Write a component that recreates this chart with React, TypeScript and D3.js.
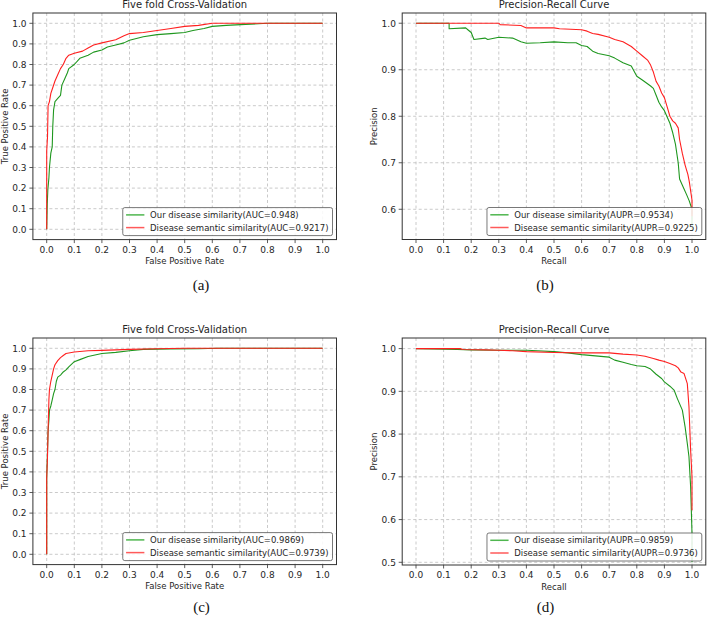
import React from 'react';
import * as d3 from 'd3';

// ---------- tick values ----------
const xTickValues = [0.0, 0.1, 0.2, 0.3, 0.4, 0.5, 0.6, 0.7, 0.8, 0.9, 1.0];
const rocYTicks = [0.0, 0.1, 0.2, 0.3, 0.4, 0.5, 0.6, 0.7, 0.8, 0.9, 1.0];
const prYTicksB = [0.6, 0.7, 0.8, 0.9, 1.0];
const prYTicksD = [0.5, 0.6, 0.7, 0.8, 0.9, 1.0];

// ---------- panel (a): ROC ----------
const rocA_our: [number, number][] = [
  [0, 0], [0.002, 0.12], [0.004, 0.19], [0.008, 0.25], [0.01, 0.3], [0.015, 0.37], [0.02, 0.4],
  [0.022, 0.5], [0.025, 0.58], [0.03, 0.62], [0.04, 0.635], [0.05, 0.65], [0.055, 0.7],
  [0.065, 0.73], [0.075, 0.76], [0.08, 0.78], [0.1, 0.8], [0.12, 0.83], [0.15, 0.845],
  [0.17, 0.86], [0.2, 0.87], [0.22, 0.885], [0.25, 0.895], [0.28, 0.905], [0.3, 0.918],
  [0.35, 0.935], [0.4, 0.945], [0.45, 0.95], [0.5, 0.955], [0.53, 0.965], [0.57, 0.975],
  [0.6, 0.985], [0.65, 0.99], [0.72, 0.995], [0.8, 1.0], [1.0, 1.0],
];
const rocA_sem: [number, number][] = [
  [0, 0], [0, 0.38], [0.003, 0.45], [0.005, 0.6], [0.01, 0.62], [0.015, 0.66], [0.02, 0.68],
  [0.03, 0.72], [0.04, 0.75], [0.05, 0.78], [0.06, 0.8], [0.07, 0.83], [0.08, 0.845],
  [0.1, 0.855], [0.13, 0.865], [0.15, 0.88], [0.17, 0.895], [0.2, 0.905], [0.25, 0.92],
  [0.28, 0.94], [0.3, 0.95], [0.35, 0.955], [0.4, 0.965], [0.45, 0.975], [0.5, 0.985],
  [0.55, 0.99], [0.6, 1.0], [1.0, 1.0],
];

// ---------- panel (b): PR ----------
const prB_our: [number, number][] = [
  [0, 1.0], [0.12, 1.0], [0.12, 0.988], [0.18, 0.99], [0.19, 0.985], [0.2, 0.98], [0.21, 0.965],
  [0.25, 0.968], [0.26, 0.965], [0.3, 0.97], [0.35, 0.968], [0.38, 0.96], [0.4, 0.957],
  [0.45, 0.958], [0.5, 0.96], [0.55, 0.958], [0.58, 0.958], [0.6, 0.952], [0.62, 0.95],
  [0.64, 0.94], [0.66, 0.935], [0.7, 0.93], [0.72, 0.925], [0.75, 0.915], [0.78, 0.908],
  [0.8, 0.886], [0.82, 0.878], [0.85, 0.865], [0.86, 0.86], [0.87, 0.845], [0.88, 0.83],
  [0.89, 0.82], [0.9, 0.812], [0.92, 0.785], [0.93, 0.765], [0.94, 0.74], [0.95, 0.7],
  [0.955, 0.665], [0.97, 0.645], [0.98, 0.632], [0.99, 0.618], [1.0, 0.6], [1.0, 0.557],
];
const prB_sem: [number, number][] = [
  [0, 1.0], [0.3, 1.0], [0.305, 0.997], [0.38, 0.995], [0.4, 0.99], [0.5, 0.99], [0.52, 0.988],
  [0.6, 0.986], [0.62, 0.983], [0.64, 0.978], [0.66, 0.976], [0.7, 0.97], [0.72, 0.965],
  [0.75, 0.96], [0.78, 0.95], [0.8, 0.94], [0.82, 0.93], [0.84, 0.92], [0.85, 0.91],
  [0.86, 0.895], [0.87, 0.875], [0.88, 0.865], [0.89, 0.85], [0.9, 0.84], [0.91, 0.82],
  [0.92, 0.8], [0.93, 0.79], [0.94, 0.785], [0.95, 0.775], [0.955, 0.75], [0.965, 0.72],
  [0.975, 0.695], [0.985, 0.675], [0.99, 0.66], [1.0, 0.62], [1.0, 0.585],
];

// ---------- panel (c): ROC ----------
const rocC_our: [number, number][] = [
  [0, 0], [0, 0.37], [0.003, 0.5], [0.005, 0.6], [0.008, 0.65], [0.01, 0.7], [0.015, 0.72],
  [0.02, 0.75], [0.025, 0.78], [0.03, 0.8], [0.035, 0.84], [0.04, 0.86], [0.05, 0.87],
  [0.06, 0.885], [0.07, 0.895], [0.08, 0.91], [0.1, 0.935], [0.12, 0.945], [0.15, 0.96],
  [0.2, 0.975], [0.25, 0.98], [0.3, 0.988], [0.35, 0.995], [0.45, 0.997], [0.55, 0.998],
  [0.62, 1.0], [1.0, 1.0],
];
const rocC_sem: [number, number][] = [
  [0, 0], [0, 0.37], [0.003, 0.48], [0.005, 0.6], [0.008, 0.75], [0.01, 0.8], [0.015, 0.84],
  [0.02, 0.87], [0.025, 0.9], [0.03, 0.92], [0.04, 0.94], [0.05, 0.955], [0.06, 0.965],
  [0.07, 0.975], [0.1, 0.982], [0.15, 0.988], [0.2, 0.99], [0.3, 0.995], [0.4, 0.998],
  [0.5, 1.0], [1.0, 1.0],
];

// ---------- panel (d): PR ----------
const prD_our: [number, number][] = [
  [0, 1.0], [0.15, 0.998], [0.2, 0.997], [0.3, 0.996], [0.4, 0.996], [0.44, 0.995],
  [0.5, 0.993], [0.55, 0.99], [0.6, 0.986], [0.65, 0.983], [0.7, 0.98], [0.72, 0.973],
  [0.75, 0.968], [0.78, 0.963], [0.8, 0.96], [0.83, 0.958], [0.85, 0.952], [0.87, 0.94],
  [0.89, 0.93], [0.9, 0.922], [0.92, 0.912], [0.935, 0.903], [0.947, 0.883], [0.965, 0.856],
  [0.975, 0.817], [0.983, 0.778], [0.989, 0.747], [0.995, 0.677], [1.0, 0.568], [1.0, 0.5],
];
const prD_sem: [number, number][] = [
  [0, 1.0], [0.16, 1.0], [0.17, 0.998], [0.25, 0.997], [0.3, 0.996], [0.35, 0.995],
  [0.4, 0.993], [0.5, 0.991], [0.6, 0.99], [0.7, 0.99], [0.75, 0.987], [0.8, 0.985],
  [0.83, 0.982], [0.86, 0.977], [0.88, 0.973], [0.9, 0.97], [0.92, 0.965], [0.94, 0.96],
  [0.95, 0.955], [0.96, 0.945], [0.971, 0.942], [0.983, 0.918], [0.989, 0.864],
  [0.995, 0.762], [1.0, 0.7], [1.0, 0.622],
];

// ---------- labels ----------
const rocTitle = 'Five fold Cross-Validation';
const prTitle = 'Precision-Recall Curve';
const legendA = ['Our disease similarity(AUC=0.948)', 'Disease semantic similarity(AUC=0.9217)'];
const legendB = ['Our disease similarity(AUPR=0.9534)', 'Disease semantic similarity(AUPR=0.9225)'];
const legendC = ['Our disease similarity(AUC=0.9869)', 'Disease semantic similarity(AUC=0.9739)'];
const legendD = ['Our disease similarity(AUPR=0.9859)', 'Disease semantic similarity(AUPR=0.9736)'];

const GREEN = '#1f971f';
const RED = '#ff2020';
const GREEN_LEG = '#4fb64f';
const RED_LEG = '#ff5a5a';
const SANS = 'DejaVu Sans';

let canvasCtx: CanvasRenderingContext2D | null = null;
function measure(text: string, size: number) {
  if (!canvasCtx) canvasCtx = document.createElement('canvas').getContext('2d');
  if (!canvasCtx) return text.length * size * 0.55;
  canvasCtx.font = `${size}px "${SANS}"`;
  return canvasCtx.measureText(text).width;
}

type PanelProps = {
  id: string;
  box: { left: number; top: number; right: number; bottom: number };
  yDomain: [number, number];
  yTicks: number[];
  title: string;
  xLabel: string;
  yLabel: string;
  data: [number, number][][];
  legend: string[];
  caption: string;
  captionX: number;
  captionY: number;
};

function Panel(p: PanelProps) {
  const { left, top, right, bottom } = p.box;
  const x = d3.scaleLinear().domain([-0.05, 1.05]).range([left, right]);
  const y = d3.scaleLinear().domain(p.yDomain).range([bottom, top]);
  const line = d3.line<[number, number]>().x(d => x(d[0])).y(d => y(d[1]));
  const colors = [GREEN, RED];
  const legColors = [GREEN_LEG, RED_LEG];
  const legFont = 8.5;
  const tw = Math.max(...p.legend.map(t => measure(t, legFont)));
  const legW = 3.3 + 18.3 + 5.7 + tw + 4;
  const legH = 28;
  const legRight = right - 4;
  const legBottom = bottom - 4;
  const legLeft = legRight - legW;
  const legTop = legBottom - legH;
  const fmt = d3.format('.1f');
  return (
    <g>
      <defs>
        <clipPath id={`clip-${p.id}`}>
          <rect x={left} y={top} width={right - left} height={bottom - top} />
        </clipPath>
      </defs>
      {/* grid */}
      {xTickValues.map(t => (
        <line key={`gx${t}`} x1={x(t)} x2={x(t)} y1={top} y2={bottom}
          stroke="#bdbdbd" strokeWidth={0.8} strokeDasharray="3,2.5" />
      ))}
      {p.yTicks.map(t => (
        <line key={`gy${t}`} x1={left} x2={right} y1={y(t)} y2={y(t)}
          stroke="#bdbdbd" strokeWidth={0.8} strokeDasharray="3,2.5" />
      ))}
      {/* curves */}
      <g clipPath={`url(#clip-${p.id})`}>
        {p.data.map((d, i) => (
          <path key={i} d={line(d) || ''} fill="none" stroke={colors[i]} strokeWidth={1.1}
            strokeLinejoin="round" />
        ))}
      </g>
      {/* spines */}
      <rect x={left} y={top} width={right - left} height={bottom - top} fill="none"
        stroke="#333" strokeWidth={1} />
      {/* x ticks */}
      {xTickValues.map(t => (
        <g key={`xt${t}`}>
          <line x1={x(t)} x2={x(t)} y1={bottom} y2={bottom + 3.5} stroke="#333" strokeWidth={0.8} />
          <text x={x(t)} y={bottom + 13.2} textAnchor="middle" fontFamily={SANS} fontSize={9}
            fill="#262626">{fmt(t)}</text>
        </g>
      ))}
      {/* y ticks */}
      {p.yTicks.map(t => (
        <g key={`yt${t}`}>
          <line x1={left - 3.5} x2={left} y1={y(t)} y2={y(t)} stroke="#333" strokeWidth={0.8} />
          <text x={left - 6.3} y={y(t) + 3.3} textAnchor="end" fontFamily={SANS} fontSize={9}
            fill="#262626">{fmt(t)}</text>
        </g>
      ))}
      {/* title and labels */}
      <text x={(left + right) / 2} y={top - 4.8} textAnchor="middle" fontFamily={SANS}
        fontSize={10} fill="#262626">{p.title}</text>
      <text x={(left + right) / 2} y={bottom + 24.5} textAnchor="middle" fontFamily={SANS}
        fontSize={8.5} fill="#262626">{p.xLabel}</text>
      <text transform={`translate(${left - 25.2},${(top + bottom) / 2}) rotate(-90)`}
        textAnchor="middle" fontFamily={SANS} fontSize={8.5} fill="#262626">{p.yLabel}</text>
      {/* legend */}
      <rect x={legLeft} y={legTop} width={legW} height={legH} rx={2} ry={2}
        fill="#fff" fillOpacity={0.85} stroke="#555" strokeWidth={0.8} />
      {p.legend.map((lab, i) => {
        const ly = legTop + 7.3 + i * 12.7;
        return (
          <g key={lab}>
            <line x1={legLeft + 3.3} x2={legLeft + 21.6} y1={ly} y2={ly}
              stroke={legColors[i]} strokeWidth={1.5} />
            <text x={legLeft + 27.3} y={ly + 3.1} fontFamily={SANS} fontSize={legFont}
              fill="#262626">{lab}</text>
          </g>
        );
      })}
      {/* caption */}
      <text x={p.captionX} y={p.captionY} textAnchor="middle" fontFamily="Liberation Serif"
        fontSize={15} fill="#111">{p.caption}</text>
    </g>
  );
}

export default function App() {
  return (
    <svg width={708} height={617} viewBox="0 0 708 617"
      style={{ position: 'absolute', left: 0, top: 0, background: '#fff' }}>
      <rect x={0} y={0} width={708} height={617} fill="#fff" />
      <Panel id="a" box={{ left: 32.9, top: 13, right: 336.5, bottom: 239.6 }}
        yDomain={[-0.05, 1.05]} yTicks={rocYTicks} title={rocTitle}
        xLabel="False Positive Rate" yLabel="True Positive Rate"
        data={[rocA_our, rocA_sem]} legend={legendA} caption="(a)" captionX={201} captionY={290} />
      <Panel id="b" box={{ left: 402.2, top: 13, right: 705.8, bottom: 239.5 }}
        yDomain={[0.535, 1.022]} yTicks={prYTicksB} title={prTitle}
        xLabel="Recall" yLabel="Precision"
        data={[prB_our, prB_sem]} legend={legendB} caption="(b)" captionX={545} captionY={290} />
      <Panel id="c" box={{ left: 32.9, top: 338, right: 336.5, bottom: 564.6 }}
        yDomain={[-0.05, 1.05]} yTicks={rocYTicks} title={rocTitle}
        xLabel="False Positive Rate" yLabel="True Positive Rate"
        data={[rocC_our, rocC_sem]} legend={legendC} caption="(c)" captionX={201.5} captionY={612} />
      <Panel id="d" box={{ left: 402.2, top: 338, right: 705.8, bottom: 565 }}
        yDomain={[0.4937, 1.0248]} yTicks={prYTicksD} title={prTitle}
        xLabel="Recall" yLabel="Precision"
        data={[prD_our, prD_sem]} legend={legendD} caption="(d)" captionX={545.5} captionY={612} />
    </svg>
  );
}
